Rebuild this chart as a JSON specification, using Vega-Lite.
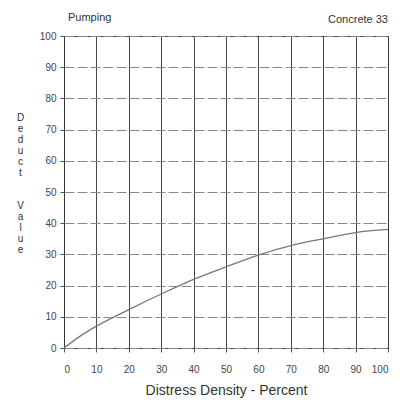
{
  "$schema": "https://vega.github.io/schema/vega-lite/v6.json",
  "width": 324,
  "height": 312,
  "autosize": {"type": "none"},
  "padding": {"left": 64, "top": 36, "right": 29, "bottom": 60},
  "background": "white",
  "config": {
    "font": "Liberation Sans Narrow, Liberation Sans, sans-serif",
    "view": {"stroke": "#444", "strokeWidth": 1}
  },
  "resolve": {"axis": {"x": "independent", "y": "independent"}},
  "layer": [
    {
      "data": {
        "values": [
          {"density": 0, "deduct": 0},
          {"density": 5, "deduct": 3.8},
          {"density": 10, "deduct": 7},
          {"density": 20, "deduct": 12.3},
          {"density": 30, "deduct": 17.3},
          {"density": 40, "deduct": 22},
          {"density": 50, "deduct": 26},
          {"density": 60, "deduct": 29.8},
          {"density": 70, "deduct": 32.8},
          {"density": 80, "deduct": 35},
          {"density": 90, "deduct": 37},
          {"density": 100, "deduct": 38}
        ]
      },
      "mark": {"type": "line", "color": "#777", "strokeWidth": 1.3, "interpolate": "monotone"},
      "encoding": {
        "x": {
          "field": "density",
          "type": "quantitative",
          "scale": {"domain": [0, 100], "nice": false},
          "axis": {
            "values": [0, 10, 20, 30, 40, 50, 60, 70, 80, 90, 100],
            "title": "Distress Density - Percent",
            "titleFontSize": 14,
            "titleFontWeight": "normal",
            "titleColor": "#333",
            "titlePadding": 9,
            "labelFontSize": 10,
            "labelColor": "#444",
            "labelPadding": 12,
            "tickSize": 4,
            "tickColor": "#555",
            "domain": false,
            "grid": true,
            "gridColor": "#333",
            "gridWidth": 1,
            "gridOpacity": 0.9
          }
        },
        "y": {
          "field": "deduct",
          "type": "quantitative",
          "scale": {"domain": [0, 100], "nice": false},
          "axis": {
            "values": [0, 10, 20, 30, 40, 50, 60, 70, 80, 90, 100],
            "title": ["D", "e", "d", "u", "c", "t", "\u200b", "\u200b", "V", "a", "l", "u", "e"],
            "titleAngle": 0,
            "titleFontSize": 10,
            "titleLineHeight": 11,
            "titleFontWeight": "normal",
            "titleColor": "#333",
            "titleX": -44,
            "titleY": 76,
            "titleAlign": "center",
            "titleBaseline": "top",
            "labelFontSize": 10,
            "labelColor": "#444",
            "labelPadding": 4,
            "tickSize": 4,
            "tickColor": "#555",
            "domain": false,
            "grid": true,
            "gridColor": "#888",
            "gridDash": [10, 3],
            "gridWidth": 1
          }
        }
      }
    },
    {
      "data": {"values": [{"label": "Concrete 33"}]},
      "mark": {"type": "text", "align": "right", "baseline": "middle", "fontSize": 11, "color": "#333", "clip": false},
      "encoding": {
        "x": {"datum": 100, "type": "quantitative", "axis": null},
        "y": {"datum": 105, "type": "quantitative", "axis": null},
        "text": {"field": "label"}
      }
    },
    {
      "data": {"values": [{"label": "Pumping"}]},
      "mark": {"type": "text", "align": "left", "baseline": "middle", "fontSize": 11, "dx": 4, "dy": -2, "color": "#333", "clip": false},
      "encoding": {
        "x": {"datum": 0, "type": "quantitative", "axis": null},
        "y": {"datum": 105, "type": "quantitative", "axis": null},
        "text": {"field": "label"}
      }
    }
  ]
}
